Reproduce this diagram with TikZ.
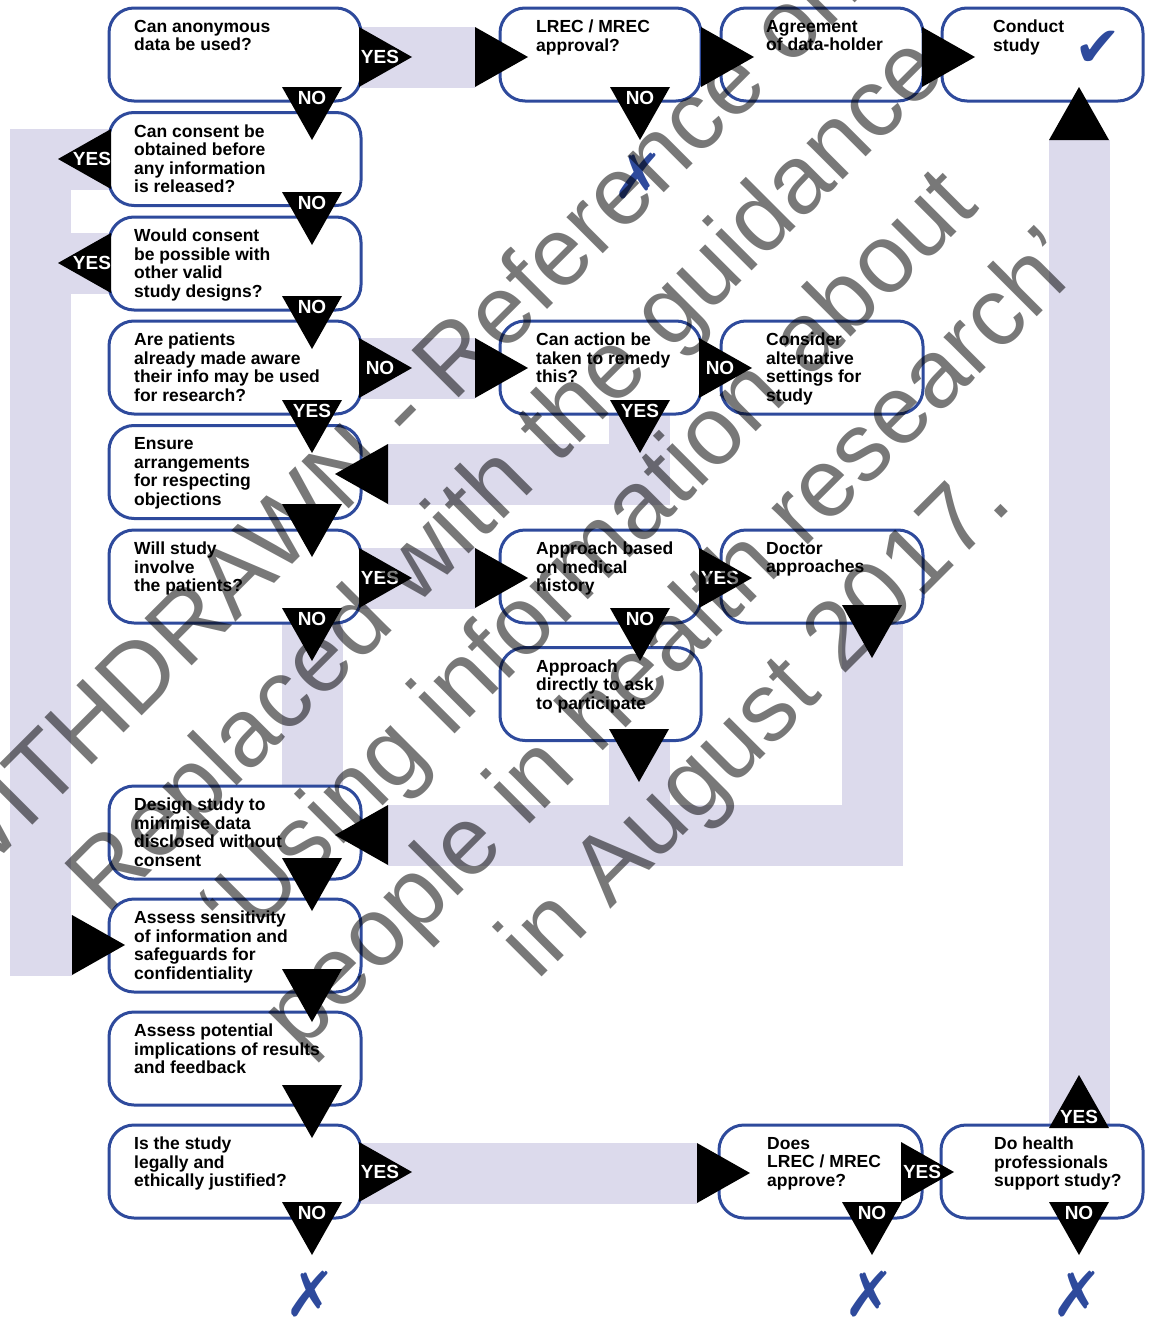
\documentclass[tikz,border=0pt]{standalone}
\usepackage{fontspec}
\setmainfont{Liberation Sans}
\newfontfamily\symbfont{DejaVu Sans}
\usetikzlibrary{backgrounds}
\definecolor{boxblue}{HTML}{2E4A9C}
\definecolor{lav}{HTML}{DCDAEC}

\tikzset{
    qbox/.style={draw=boxblue, line width=3pt, fill=white, rounded corners=25pt,
        minimum height=93pt, inner sep=0pt, outer sep=0pt},
    qtext/.style={anchor=north west, inner sep=0pt, align=left,
        font=\bfseries\fontsize{17.5}{18.5}\selectfont},
    band/.style={draw=lav, line width=61pt},
    flaglbl/.style={text=white, inner sep=0pt, font=\bfseries\fontsize{19}{19}\selectfont},
    pics/tri/.style={code={\fill (0,-30) -- (53,0) -- (0,30) -- cycle;}},
    pics/flag/.style 2 args={code={
        \fill (0,-30) -- (53,0) -- (0,30) -- cycle;
        \node[flaglbl] (-lbl) at (#2,0) {#1};}},
    mark/.style={text=boxblue, inner sep=0pt, font=\symbfont\fontsize{#1}{#1}\selectfont},
    wmark/.style={align=center, text=black, text opacity=0.53, font=\fontsize{97}{117}\selectfont},
}

\begin{document}
\begin{tikzpicture}[x=1pt, y=-1pt]
        \useasboundingbox (0,0) rectangle (1152,1325);
        \clip (0,0) rectangle (1152,1325);

        %Arrow heads
        \coordinate (h-lrec) at (475,57);
        \coordinate (h-holder) at (701,57);
        \coordinate (h-conduct-r) at (922,57);
        \coordinate (h-conduct) at (1079,140);
        \coordinate (h-remedy) at (475,368);
        \coordinate (h-obj) at (388,474);
        \coordinate (h-medhist) at (475,578);
        \coordinate (h-design) at (388,835);
        \coordinate (h-sens) at (72,945);
        \coordinate (h-approve) at (697,1173);

        %Column 1
        \node[qbox, minimum width=252pt] (anon) at (235,54.5) {};
        \node[qbox, minimum width=252pt] (consent) at (235,159) {};
        \node[qbox, minimum width=252pt] (otherdes) at (235,263.5) {};
        \node[qbox, minimum width=252pt] (aware) at (235,367.5) {};
        \node[qbox, minimum width=252pt] (objection) at (235,472) {};
        \node[qbox, minimum width=252pt] (involve) at (235,576.5) {};
        \node[qbox, minimum width=252pt] (design) at (235,832.5) {};
        \node[qbox, minimum width=252pt] (sensitiv) at (235,945.5) {};
        \node[qbox, minimum width=252pt] (implic) at (235,1058.5) {};
        \node[qbox, minimum width=252pt] (legal) at (235,1171.5) {};

        %Column 2
        \node[qbox, minimum width=201pt] (lrec) at (600.5,54.5) {};
        \node[qbox, minimum width=201pt] (remedy) at (600.5,367.5) {};
        \node[qbox, minimum width=201pt] (medhist) at (600.5,576.5) {};
        \node[qbox, minimum width=201pt] (direct) at (600.5,694) {};

        %Column 3
        \node[qbox, minimum width=202pt] (holder) at (822,54.5) {};
        \node[qbox, minimum width=202pt] (altset) at (822,367.5) {};
        \node[qbox, minimum width=202pt] (doctor) at (822,576.5) {};
        \node[qbox, minimum width=203pt] (approve) at (820.5,1171.5) {};

        %Column 4
        \node[qbox, minimum width=201pt] (conduct) at (1042.5,54.5) {};
        \node[qbox, minimum width=202pt] (support) at (1042,1171.5) {};

        %Bands
        \begin{scope}[on background layer]
            \draw[band] (anon.east |- h-lrec) -- (h-lrec);
            \draw[band] (aware.east |- h-remedy) -- (h-remedy);
            \draw[band] (involve.east |- h-medhist) -- (h-medhist);
            \draw[band] (legal.east |- h-approve) -- (h-approve);
            \draw[band] ([xshift=38.5]remedy.south) |- (h-obj);
            \draw[band] ([xshift=77]involve.south) -- ([xshift=77]design.north);
            \draw[band] ([xshift=38.5]direct.south) |- (h-design);
            \draw[band] ([xshift=50]doctor.south) |- (h-design);
            \draw[band] (consent.west) -- (40,159) -- (40,945) -- (h-sens);
            \draw[band] (otherdes.west) -- (40,263.5);
            \draw[band] ([xshift=37]support.north) -- (h-conduct);
        \end{scope}

        %YES / NO flags
        \pic (f1) at (359,57) {flag={YES}{21}};
        \pic[rotate=-90] (f2) at (312,87) {flag={NO}{11}};
        \pic[rotate=180] (f3) at (111,159) {flag={YES}{19}};
        \pic[rotate=-90] (f4) at (312,192) {flag={NO}{11}};
        \pic[rotate=180] (f5) at (111,263) {flag={YES}{19}};
        \pic[rotate=-90] (f6) at (312,296) {flag={NO}{11}};
        \pic (f7) at (359,368) {flag={NO}{21}};
        \pic[rotate=-90] (f8) at (312,400) {flag={YES}{11}};
        \pic (f9) at (359,578) {flag={YES}{21}};
        \pic[rotate=-90] (f10) at (312,608) {flag={NO}{11}};
        \pic[rotate=-90] (f11) at (640,87) {flag={NO}{11}};
        \pic (f12) at (699,368) {flag={NO}{21}};
        \pic[rotate=-90] (f13) at (640,400) {flag={YES}{11}};
        \pic (f14) at (699,578) {flag={YES}{21}};
        \pic[rotate=-90] (f15) at (640,608) {flag={NO}{11}};
        \pic (f16) at (359,1172) {flag={YES}{21}};
        \pic[rotate=-90] (f17) at (312,1202) {flag={NO}{11}};
        \pic (f18) at (901,1172) {flag={YES}{21}};
        \pic[rotate=-90] (f19) at (872,1202) {flag={NO}{11}};
        \pic[rotate=90] (f20) at (1079,1128) {flag={YES}{11}};
        \pic[rotate=-90] (f21) at (1079,1202) {flag={NO}{11}};

        %Plain heads
        \pic at (h-lrec) {tri};
        \pic at (h-holder) {tri};
        \pic at (h-conduct-r) {tri};
        \pic[rotate=90] at (h-conduct) {tri};
        \pic at (h-remedy) {tri};
        \pic[rotate=180] at (h-obj) {tri};
        \pic[rotate=-90] at (312,504) {tri};
        \pic at (h-medhist) {tri};
        \pic[rotate=-90] at (872,605) {tri};
        \pic[rotate=-90] at (639,729) {tri};
        \pic[rotate=180] at (h-design) {tri};
        \pic[rotate=-90] at (312,858) {tri};
        \pic at (h-sens) {tri};
        \pic[rotate=-90] at (312,969) {tri};
        \pic[rotate=-90] at (312,1085) {tri};
        \pic at (h-approve) {tri};

        %Texts
        \node[qtext] (anon-t) at ([shift={(25,12)}]anon.north west) {Can anonymous\\data be used?};
        \node[qtext] (consent-t) at ([shift={(25,12)}]consent.north west) {Can consent be\\obtained before\\any information\\is released?};
        \node[qtext] (otherdes-t) at ([shift={(25,12)}]otherdes.north west) {Would consent\\be possible with\\other valid\\study designs?};
        \node[qtext] (aware-t) at ([shift={(25,12)}]aware.north west) {Are patients\\already made aware\\their info may be used\\for research?};
        \node[qtext] (objection-t) at ([shift={(25,12)}]objection.north west) {Ensure\\arrangements\\for respecting\\objections};
        \node[qtext] (involve-t) at ([shift={(25,12)}]involve.north west) {Will study\\involve\\the patients?};
        \node[qtext] (design-t) at ([shift={(25,12)}]design.north west) {Design study to\\minimise data\\disclosed without\\consent};
        \node[qtext] (sensitiv-t) at ([shift={(25,12)}]sensitiv.north west) {Assess sensitivity\\of information and\\safeguards for\\confidentiality};
        \node[qtext] (implic-t) at ([shift={(25,12)}]implic.north west) {Assess potential\\implications of results\\and feedback};
        \node[qtext] (legal-t) at ([shift={(25,12)}]legal.north west) {Is the study\\legally and\\ethically justified?};
        \node[qtext] (lrec-t) at ([shift={(36,12)}]lrec.north west) {LREC / MREC\\approval?};
        \node[qtext] (remedy-t) at ([shift={(36,12)}]remedy.north west) {Can action be\\taken to remedy\\this?};
        \node[qtext] (medhist-t) at ([shift={(36,12)}]medhist.north west) {Approach based\\on medical\\history};
        \node[qtext] (direct-t) at ([shift={(36,12)}]direct.north west) {Approach\\directly to ask\\to participate};
        \node[qtext] (holder-t) at ([shift={(45,12)}]holder.north west) {Agreement\\of data-holder};
        \node[qtext] (altset-t) at ([shift={(45,12)}]altset.north west) {Consider\\alternative\\settings for\\study};
        \node[qtext] (doctor-t) at ([shift={(45,12)}]doctor.north west) {Doctor\\approaches};
        \node[qtext] (approve-t) at ([shift={(48,12)}]approve.north west) {Does\\LREC / MREC\\approve?};
        \node[qtext] (conduct-t) at ([shift={(51,12)}]conduct.north west) {Conduct\\study};
        \node[qtext] (support-t) at ([shift={(53,12)}]support.north west) {Do health\\professionals\\support study?};

        %Ticks and crosses
        \node[mark=56] (ok) at (1098,49) {✔};
        \node[mark=62] (no1) at (638,176) {✗};
        \node[mark=62] (no2) at (310,1294) {✗};
        \node[mark=62] (no3) at (869,1294) {✗};
        \node[mark=62] (no4) at (1077,1294) {✗};

        %Watermark
        \node[wmark, rotate=45] (wm) at (593,560) {WITHDRAWN - Reference only.\\Replaced with the guidance\\‘Using information about\\people in health research’\\in August 2017.};
\end{tikzpicture}
\end{document}
